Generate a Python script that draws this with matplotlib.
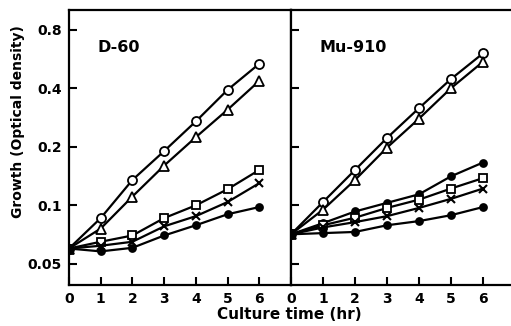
import numpy as np
import matplotlib.pyplot as plt
from matplotlib.ticker import FixedLocator, NullLocator

plt.rcParams['font.family'] = ['DejaVu Sans']
plt.rcParams['font.weight'] = 'bold'

hours = [0, 1, 2, 3, 4, 5, 6]

# D-60 panel
d60_circle = [0.060, 0.086, 0.135, 0.190, 0.270, 0.392, 0.534]
d60_triangle = [0.060, 0.076, 0.111, 0.160, 0.224, 0.310, 0.436]
d60_square = [0.060, 0.065, 0.070, 0.086, 0.100, 0.121, 0.152]
d60_cross = [0.060, 0.062, 0.065, 0.078, 0.088, 0.104, 0.130]
d60_filled = [0.060, 0.058, 0.0605, 0.070, 0.079, 0.090, 0.098]

# Mu-910 panel
mu_circle = [0.071, 0.104, 0.152, 0.222, 0.316, 0.446, 0.604]
mu_triangle = [0.071, 0.095, 0.135, 0.198, 0.279, 0.400, 0.547]
mu_filled_hi = [0.071, 0.081, 0.093, 0.103, 0.114, 0.141, 0.166]
mu_square = [0.071, 0.079, 0.0864, 0.097, 0.107, 0.122, 0.138]
mu_cross = [0.071, 0.077, 0.082, 0.088, 0.097, 0.108, 0.122]
mu_filled_lo = [0.071, 0.072, 0.073, 0.079, 0.083, 0.089, 0.098]

y_ticks = [0.05, 0.1, 0.2, 0.4, 0.8]
y_labels = ["0.05", "0.1", "0.2", "0.4", "0.8"]

styles = {
    "circle": dict(marker="o", ms=6.5, mfc="white"),
    "triangle": dict(marker="^", ms=6.5, mfc="white"),
    "square": dict(marker="s", ms=5.5, mfc="white"),
    "cross": dict(marker="x", ms=6, mew=1.5),
    "filled": dict(marker="o", ms=5, mfc="black"),
}

fig = plt.figure(figsize=(5.11, 3.26), dpi=100)
ax1 = fig.add_axes([0.135, 0.126, 0.4344, 0.8436])
ax2 = fig.add_axes([0.5695, 0.126, 0.4305, 0.8436])

panels = [
    (ax1, "D-60", [(d60_circle, "circle"), (d60_triangle, "triangle"), (d60_square, "square"),
                   (d60_cross, "cross"), (d60_filled, "filled")], 7.0),
    (ax2, "Mu-910", [(mu_circle, "circle"), (mu_triangle, "triangle"), (mu_filled_hi, "filled"),
                     (mu_square, "square"), (mu_cross, "cross"), (mu_filled_lo, "filled")], 6.875),
]

for ax, name, series, xmax in panels:
    for vals, key in series:
        st = dict(styles[key])
        st.setdefault("mew", 1.3)
        ax.plot(hours, vals, color="black", lw=1.6, mec="black", **st)
    ax.set_yscale("log")
    ax.set_ylim(0.039, 1.01)
    ax.set_xlim(0, xmax)
    ax.yaxis.set_major_locator(FixedLocator(y_ticks))
    ax.yaxis.set_minor_locator(NullLocator())
    ax.set_xticks(hours)
    ax.tick_params(direction="in", length=6, width=1.5, labelsize=10, pad=5)
    for s in ax.spines.values():
        s.set_linewidth(1.6)
    ax.text(0.13, 0.862, name, transform=ax.transAxes, fontsize=11.5, fontweight="bold",
            va="center", ha="left")

ax2.spines["right"].set_visible(False)
ax1.set_yticklabels(y_labels)
ax2.set_yticklabels([])
ax1.set_ylabel("Growth (Optical density)", fontsize=10, fontweight="bold")
ax1.yaxis.set_label_coords(-0.2, 0.593)
fig.text(0.566, 0.035, "Culture time (hr)", ha="center", va="center", fontsize=11,
         fontweight="bold")

fig.savefig("out.png", dpi=100)
